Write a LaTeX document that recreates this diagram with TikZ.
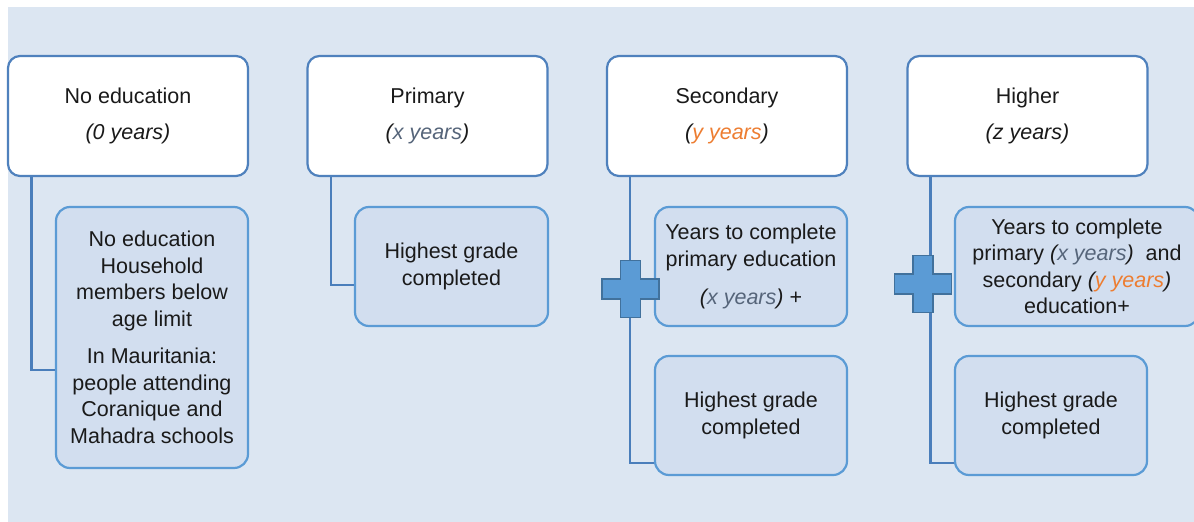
\documentclass[tikz,border=0pt]{standalone}
\usepackage{fontspec}
\setmainfont{Liberation Sans}
\usetikzlibrary{calc}

\definecolor{bgblue}{HTML}{DCE6F2}
\definecolor{topline}{HTML}{4F81BD}
\definecolor{subline}{HTML}{5B9BD5}
\definecolor{subfill}{HTML}{D2DEEF}
\definecolor{linkline}{HTML}{4A7EBB}
\definecolor{plusfill}{HTML}{5B9BD5}
\definecolor{plusline}{HTML}{41719C}
\definecolor{xgray}{HTML}{56657A}
\definecolor{yorange}{HTML}{ED7D31}
\definecolor{ink}{HTML}{1A1A1A}

\tikzset{
  pics/plussign/.style={code={
    \filldraw[fill=plusfill, draw=plusline, line width=1.6pt]
      (-10,-28.5) -- (10,-28.5) -- (10,-10) -- (28.5,-10) -- (28.5,10) -- (10,10)
      -- (10,28.5) -- (-10,28.5) -- (-10,10) -- (-28.5,10) -- (-28.5,-10) -- (-10,-10) -- cycle;
  }}
}

\begin{document}
\begin{tikzpicture}[x=1pt, y=-1pt,
  every node/.style={font=\fontsize{21.5}{26.5}\selectfont, text=ink, align=center, inner sep=0pt},
  levelbox/.style={draw=topline, line width=2.2pt, fill=white, rounded corners=12pt,
                   minimum width=240pt, minimum height=120pt},
  detailbox/.style={draw=subline, line width=2.2pt, fill=subfill, rounded corners=14pt,
                    minimum width=192pt, minimum height=119pt},
  link/.style={draw=linkline, line width=2.6pt}
]
\useasboundingbox (0,0) rectangle (1194,522);
\clip (0,0) rectangle (1194,522);
\fill[white] (0,0) rectangle (1194,522);
\fill[bgblue] (8,7) rectangle (1194,522);

% education levels
\node[levelbox] (ne) at (128,116) {No education\\[9.5pt] \textit{(0 years)}};
\node[levelbox] (pr) at (427.5,116) {Primary\\[9.5pt] \textit{(\textcolor{xgray}{x years})}};
\node[levelbox] (se) at (727,116) {Secondary\\[9.5pt] \textit{(\textcolor{yorange}{y years})}};
\node[levelbox] (hi) at (1027.5,116) {Higher\\[9.5pt] \textit{(z years)}};

% details below each level
\node[detailbox, minimum height=261pt] (nesub) at (152,337.5)
  {No education\\ Household\\ members below\\ age limit\\[11pt]
   In Mauritania:\\ people attending\\ Coranique and\\ Mahadra schools};
\node[detailbox, minimum width=193pt] (prsub) at (451.5,266.5) {Highest grade\\ completed};
\node[detailbox] (sesubA) at (751,266.5)
  {Years to complete\\ primary education\\[12pt] \textit{(\textcolor{xgray}{x years})} +};
\node[detailbox] (sesubB) at (751,415.5) {Highest grade\\ completed};
\node[detailbox, minimum width=244pt] (hisubA) at (1077,266.5)
  {Years to complete\\ primary \textit{(\textcolor{xgray}{x years})}\ \ and\\
   secondary \textit{(\textcolor{yorange}{y years})}\\ education+};
\node[detailbox] (hisubB) at (1051,415.5) {Highest grade\\ completed};

% connectors: vertical drop from each level, elbow into its detail box
\coordinate (nel) at ([xshift=24.5pt]ne.south west);
\coordinate (prl) at ([xshift=24.5pt]pr.south west);
\coordinate (sel) at ([xshift=24pt]se.south west);
\coordinate (hil) at ([xshift=24pt]hi.south west);
\draw[link] (nel) |- ([yshift=-32.5pt]nesub.west);
\draw[link] (prl) |- ([yshift=-18.5pt]prsub.west);
\draw[link] (sel) |- ([yshift=-47.5pt]sesubB.west);
\draw[link] (hil) |- ([yshift=-47.5pt]hisubB.west);

% plus signs
\pic at (630.5,289) {plussign};
\pic at (923,284) {plussign};
\end{tikzpicture}
\end{document}
